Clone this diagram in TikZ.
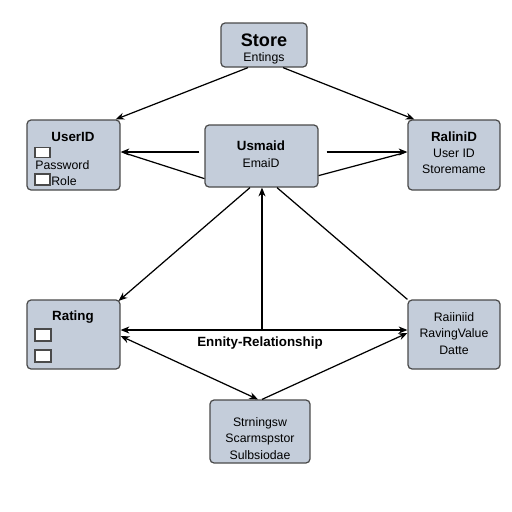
\documentclass[tikz,border=0pt]{standalone}
\usepackage{fontspec}
\setmainfont{Liberation Sans}
\usetikzlibrary{arrows.meta}
\definecolor{boxfill}{HTML}{C4CDDA}
\definecolor{boxline}{HTML}{4A4A4A}
\begin{document}
\begin{tikzpicture}[x=0.02cm, y=-0.02cm,
	entity/.style={draw=boxline, fill=boxfill, rounded corners=2.3pt, line width=0.7pt, inner sep=0pt},
	field/.style={draw=boxline, fill=white, line width=0.6pt, inner sep=0pt, minimum width=0.3cm, minimum height=0.2cm},
	title/.style={font=\fontsize{7.6}{9}\selectfont\bfseries, inner sep=0pt},
	attr/.style={font=\fontsize{7}{8}\selectfont, inner sep=0pt},
	link/.style={line width=0.7pt, -{Stealth[length=5pt,width=4pt]}},
	both/.style={line width=0.7pt, {Stealth[length=5pt,width=4pt]}-{Stealth[length=5pt,width=4pt]}}]
	\useasboundingbox (0,0) rectangle (512,512);
	% Cajas
		\node[entity, minimum width=1.72cm, minimum height=0.88cm] (store) at (264,45) {};
		\node[entity, minimum width=1.86cm, minimum height=1.40cm] (user) at (73.5,155) {};
		\node[entity, minimum width=2.26cm, minimum height=1.24cm] (usmaid) at (261.5,156) {};
		\node[entity, minimum width=1.84cm, minimum height=1.40cm] (ralini) at (454,155) {};
		\node[entity, minimum width=1.86cm, minimum height=1.38cm] (rating) at (73.5,334.5) {};
		\node[entity, minimum width=1.84cm, minimum height=1.38cm] (raiin) at (454,334.5) {};
		\node[entity, minimum width=2.00cm, minimum height=1.26cm] (strn) at (260,431.5) {};
	% Textos
		\node[font=\fontsize{10.3}{12}\selectfont\bfseries, inner sep=0pt] (storet) at (264,40) {Store};
		\node[attr] (entings) at (264,58) {Entings};
		\node[title] (usert) at (73,137) {UserID};
		\node[field] (pwbox) at (42.5,152.5) {};
		\node[attr, anchor=west] (pw) at (35,165) {Password};
		\node[field, minimum height=0.22cm] (rolebox) at (42.5,179.5) {};
		\node[attr, anchor=west] (role) at (51,181) {Role};
		\node[title] (usmaidt) at (261,146) {Usmaid};
		\node[attr] (email) at (261,163) {EmaiD};
		\node[title] (ralinit) at (454,137) {RaliniD};
		\node[attr] (userid) at (454,153) {User ID};
		\node[attr] (storename) at (454,169) {Storemame};
		\node[title] (ratingt) at (73,317) {Rating};
		\node[field, minimum width=0.32cm, minimum height=0.24cm] (ratebox) at (43,335) {};
		\node[field, minimum width=0.32cm, minimum height=0.24cm] (datebox) at (43,356) {};
		\node[attr] (raiint) at (454,317) {Raiiniid};
		\node[attr] (ratval) at (454,334) {RavingValue};
		\node[attr] (datte) at (454,350) {Datte};
		\node[attr] (strings) at (260,423) {Strningsw};
		\node[attr] (scarm) at (260,439) {Scarmspstor};
		\node[attr] (subs) at (260,455) {Sulbsiodae};
	% Conectores
		\draw[link] ([xshift=-0.32cm]store.south) -- ([xshift=-0.1cm]user.north east);
		\draw[link] ([xshift=0.38cm]store.south) -- ([xshift=0.14cm]ralini.north west);
		\draw[link] ([xshift=-0.1cm,yshift=0.08cm]usmaid.west) -- ([yshift=0.06cm]user.east);
		\draw[line width=0.7pt] ([yshift=0.18cm]usmaid.south west) -- ([xshift=0.08cm,yshift=0.04cm]user.east);
		\draw[link] ([xshift=0.16cm,yshift=0.08cm]usmaid.east) -- ([yshift=0.06cm]ralini.west);
		\draw[line width=0.7pt] ([yshift=0.24cm]usmaid.south east) -- ([xshift=-0.08cm,yshift=0.04cm]ralini.west);
		\draw[link] ([xshift=-0.23cm]usmaid.south) -- ([xshift=-0.04cm,yshift=-0.03cm]rating.north east);
		\draw[line width=0.7pt] ([xshift=0.31cm]usmaid.south) -- (raiin.north west);
		\draw[both] ([yshift=0.09cm]rating.east) -- ([yshift=0.09cm]raiin.west);
		\coordinate (erjoin) at (262,330);
		\draw[link] (erjoin) -- (usmaid.south -| erjoin);
		\draw[both] ([yshift=-0.03cm]rating.east) -- ([xshift=-0.04cm]strn.north);
		\draw[link] ([xshift=0.04cm]strn.north) -- ([yshift=0.03cm]raiin.west);
	% Etiqueta
		\node[title] (erlabel) at (260,343) {Ennity-Relationship};
\end{tikzpicture}
\end{document}
